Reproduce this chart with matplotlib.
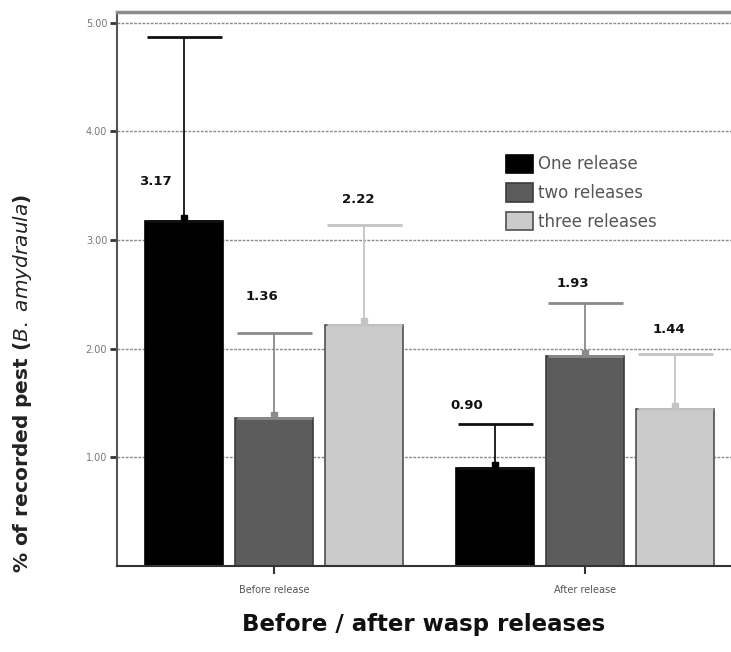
import matplotlib
matplotlib.use('Agg')
import matplotlib.pyplot as plt
import numpy as np

groups = ['Before release', 'After release']
series = ['One release', 'two releases', 'three releases']
means = [[3.17, 0.90], [1.36, 1.93], [2.22, 1.44]]
upper = [[4.87, 1.31], [2.14, 2.42], [3.14, 1.95]]
labels = [['3.17', '0.90'], ['1.36', '1.93'], ['2.22', '1.44']]
label_y = [[3.54, 1.48], [2.48, 2.60], [3.37, 2.18]]
label_dx = [-0.09, -0.04, -0.02]
yticks = [1.0, 2.0, 3.0, 4.0, 5.0]

fill = ['#000000', '#5c5c5c', '#cbcbcb']
edge = ['#000000', '#3c3c3c', '#505050']
errc = ['#111111', '#8a8a8a', '#c4c4c4']

fig = plt.figure(figsize=(7.31, 6.52), dpi=100)
ax = fig.add_axes([0.160, 0.132, 0.84, 0.850])

x = np.arange(len(groups))
w = 0.25
step = 0.29

for yv in yticks:
    ax.axhline(yv, color='#8c8c8c', lw=1.0, ls=(0, (2, 1)), zorder=0)

for i in range(3):
    xi = x + (i - 1) * step
    m = np.array(means[i])
    err = np.array(upper[i]) - m
    ax.bar(xi, m, w, color=fill[i], edgecolor=edge[i], lw=1.2, label=series[i], zorder=2)
    ax.errorbar(xi, m, yerr=[np.zeros_like(err), err], fmt='none', ecolor=errc[i],
                elinewidth=1.3, capsize=27, capthick=2.0, zorder=3)
    ax.plot(xi, m + 0.03, ls='none', marker='s', ms=5, color=errc[i] if i else '#000000', zorder=3)
    for j in range(len(groups)):
        ax.text(xi[j] + label_dx[i], label_y[i][j], labels[i][j], ha='center', va='center',
                fontsize=9.5, fontweight='bold', color='#111111')

ax.set_xlim(-0.505, 1.47)
ax.set_ylim(0, 5.1)
ax.set_yticks(yticks)
ax.set_yticklabels(['%.2f' % v for v in yticks], fontsize=7, color='#777777')
ax.set_xticks(x)
ax.set_xticklabels(groups, fontsize=7, color='#555555')
ax.tick_params(axis='y', length=5, width=2, color='#333333', pad=2)
ax.tick_params(axis='x', length=6, width=1.5, color='#333333', pad=8)

ax.spines['right'].set_visible(False)
ax.spines['top'].set_color('#8c8c8c')
ax.spines['top'].set_linewidth(2.5)
ax.spines['left'].set_color('#555555')
ax.spines['left'].set_linewidth(1.5)
ax.spines['bottom'].set_color('#333333')
ax.spines['bottom'].set_linewidth(1.5)

ax.set_ylabel(r'% of recorded pest ($\mathit{B.\ amydraula}$)', fontsize=14.5,
              fontweight='bold', color='#222222')
ax.yaxis.set_label_coords(-0.135, 0.33)
ax.set_xlabel('Before / after wasp releases', fontsize=16.5, fontweight='bold',
              color='#111111', labelpad=13)

ax.legend(loc='upper left', bbox_to_anchor=(0.62, 0.757), frameon=False, fontsize=12,
          labelcolor='#555555', handlelength=1.65, handleheight=1.3, handletextpad=0.25,
          labelspacing=0.6, borderpad=0)

plt.savefig('out.png', dpi=100)
